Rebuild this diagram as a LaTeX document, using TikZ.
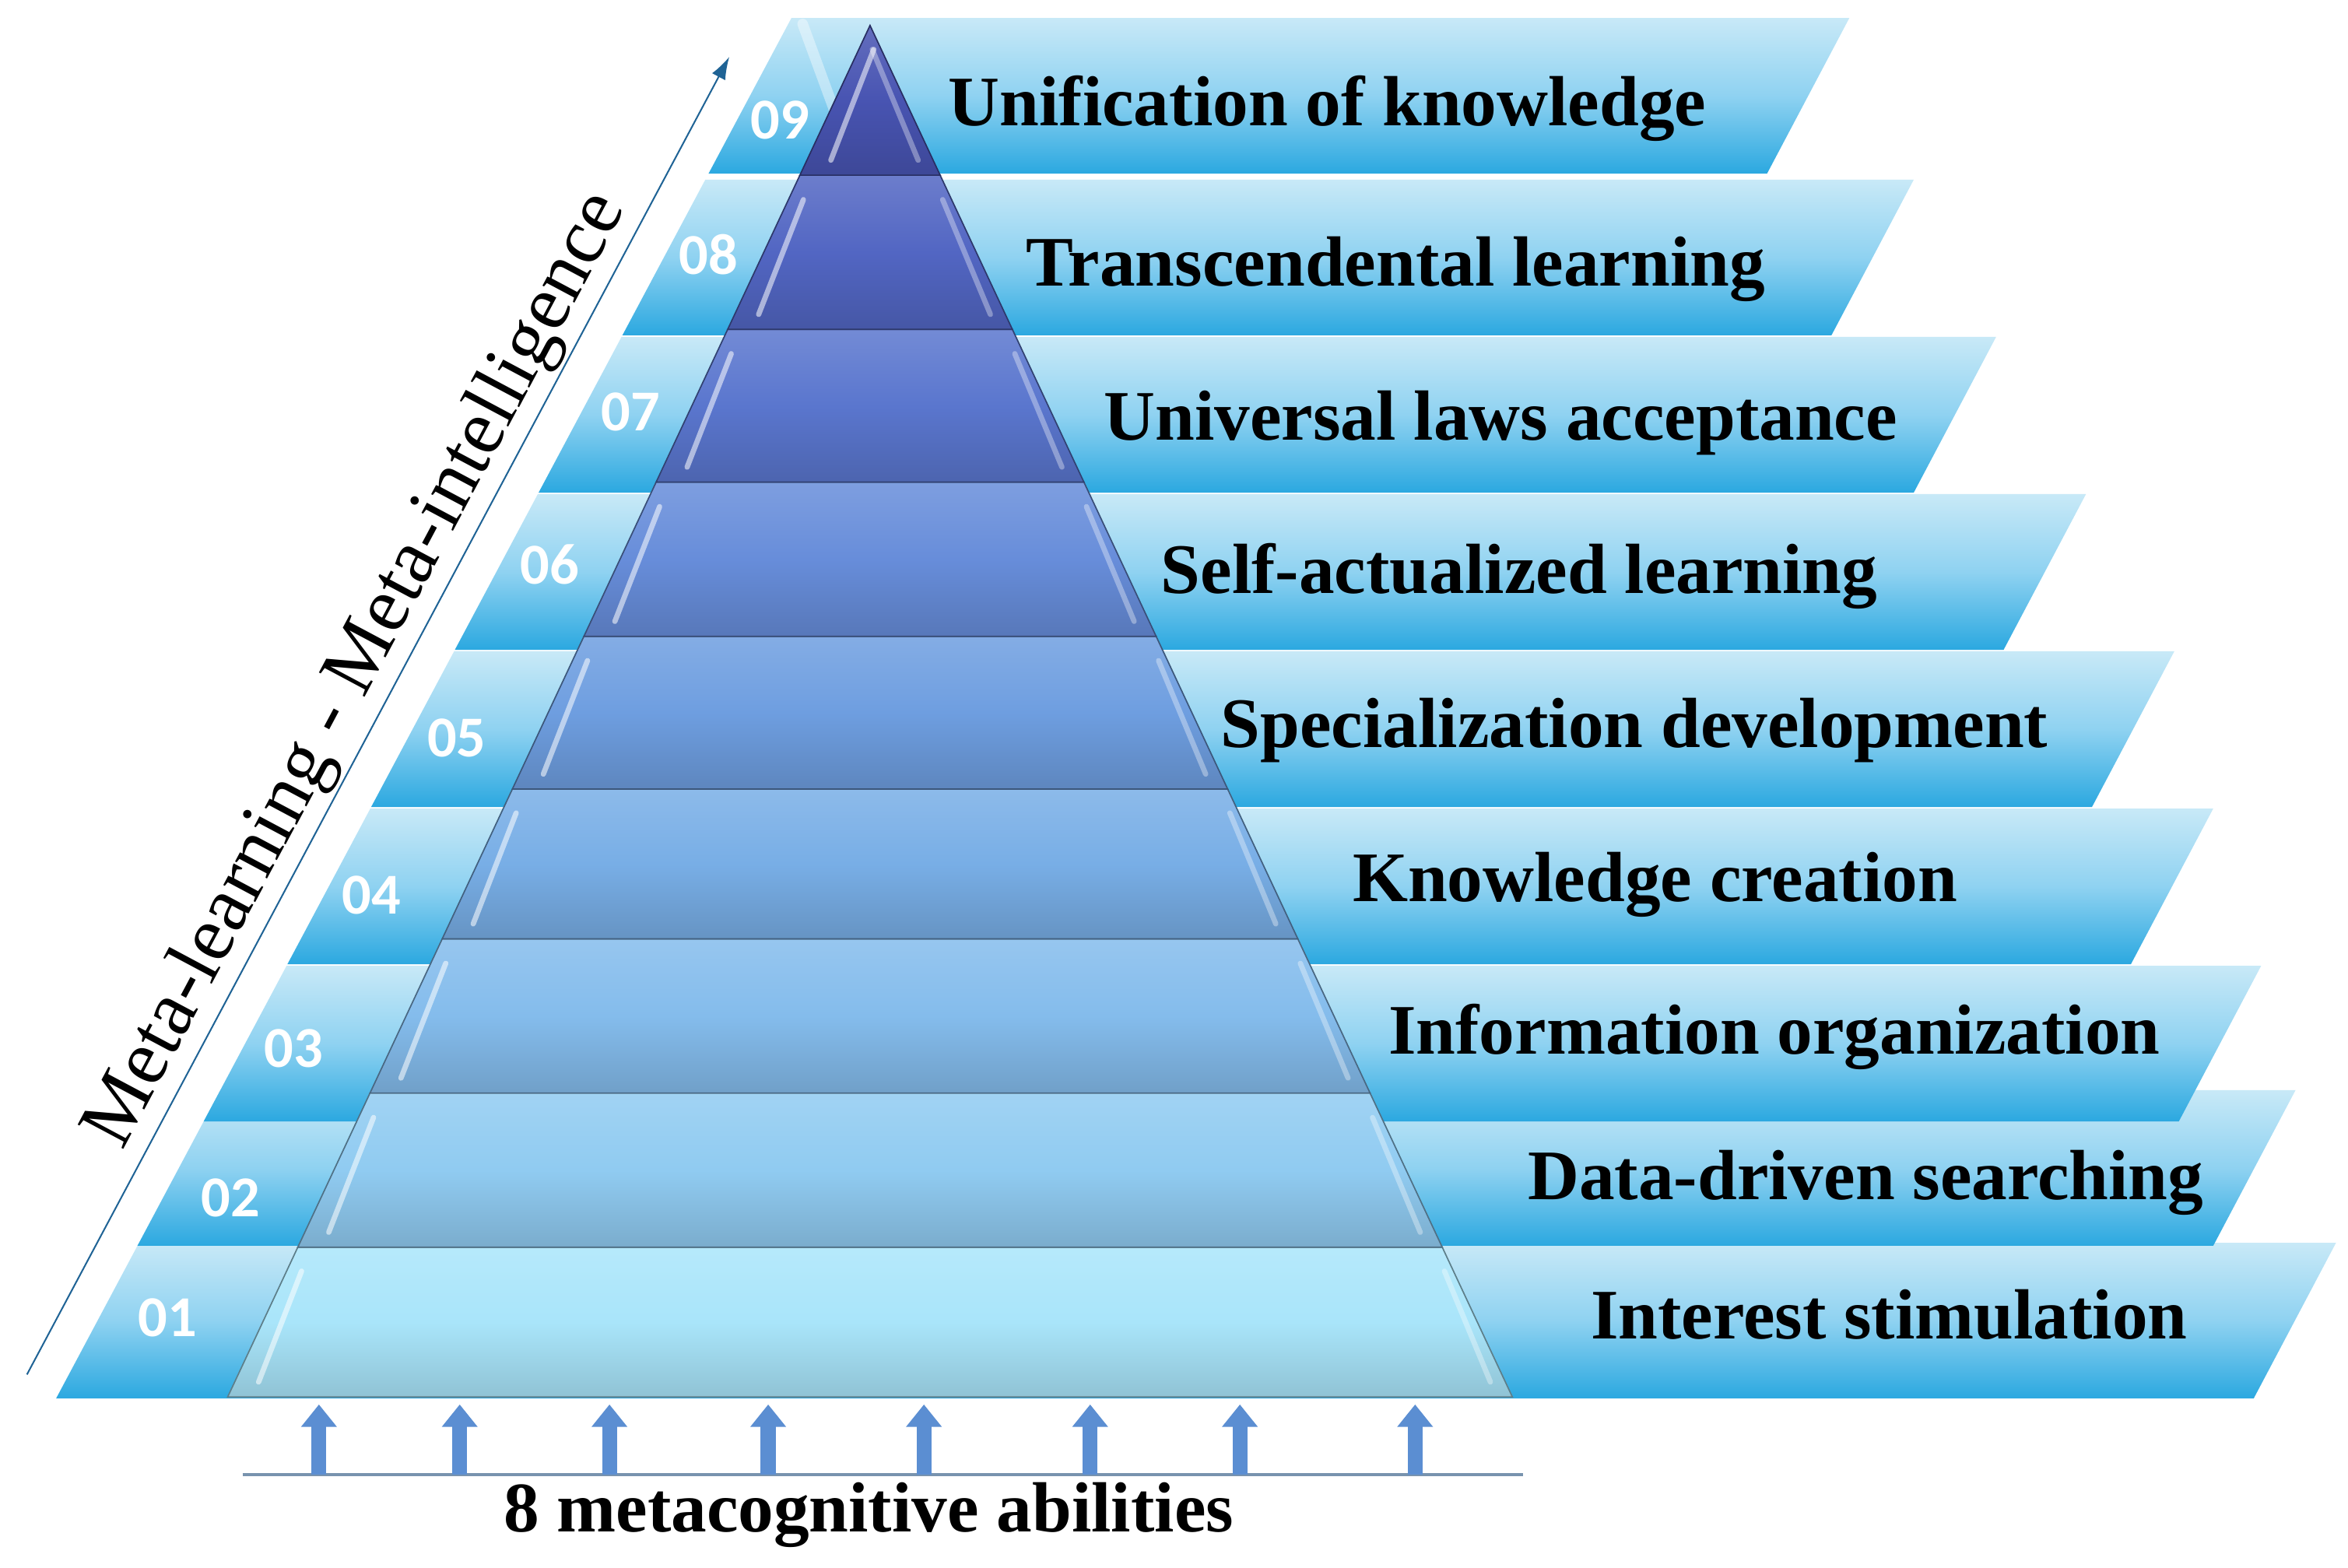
\documentclass[tikz,border=0pt]{standalone}
\usepackage{fontspec}
\setmainfont{Liberation Serif}
\newfontfamily\numfont{Carlito}
\usetikzlibrary{arrows.meta}

\definecolor{bandtop}{HTML}{C8E9F7}
\definecolor{bandmid}{HTML}{8FD2F1}
\definecolor{bandbot}{HTML}{2BA8E0}
\definecolor{axisblue}{HTML}{1F6395}
\definecolor{abilblue}{HTML}{5B8ED2}
\definecolor{baseblue}{HTML}{7893AE}
\definecolor{lv1}{HTML}{A9E5FA}
\definecolor{lv2}{HTML}{90CBF1}
\definecolor{lv3}{HTML}{84BCEC}
\definecolor{lv4}{HTML}{78AEE6}
\definecolor{lv5}{HTML}{6E9EE0}
\definecolor{lv6}{HTML}{678DDA}
\definecolor{lv7}{HTML}{5A76CE}
\definecolor{lv8}{HTML}{5266C3}
\definecolor{lv9}{HTML}{4854B2}

\tikzset{
  band/.style={top color=bandtop, bottom color=bandbot, middle color=bandmid},
  lbl/.style={font=\bfseries\fontsize{27}{32}\selectfont, anchor=mid west, inner sep=0pt},
  numtag/.style={font=\numfont\bfseries\fontsize{22}{26}\selectfont, text=white, inner sep=0pt},
  shine/.style={white, line width=2pt, line cap=round, opacity=0.55},
  abil/.style={abilblue, line width=0.2cm, -{Triangle[width=0.46cm,length=0.3cm]}}
}

\begin{document}
\begin{tikzpicture}[x=0.02cm, y=0.02cm]

	\useasboundingbox (0,0) rectangle (1568,-1047);

	% stepped bands behind the pyramid
	\foreach \n/\t/\r in {01/830/1560, 02/728/1533, 03/645/1510, 04/540/1478, 05/435/1452, 06/330/1393, 07/225/1333, 08/120/1278, 09/12/1235} {
		\pgfmathsetmacro{\xa}{38+(933-\t)*0.5326}
		\pgfmathsetmacro{\xb}{38+(933-\t-104)*0.5326}
		\path[band] (\xb,-\t-104) -- (\xa,-\t) -- (\r,-\t) -- (\r-55,-\t-104) -- cycle;
	}
	\draw[white, line width=4pt, opacity=0.4, line cap=round] (536,-16) -- (558,-76);

	% pyramid
	\foreach \t/\b/\c in {833/933/lv1, 730/833/lv2, 627/730/lv3, 527/627/lv4, 425/527/lv5, 322/425/lv6, 220/322/lv7, 117/220/lv8, 17/117/lv9} {
		\pgfmathsetmacro{\hwt}{(\t-17)*0.4683}
		\pgfmathsetmacro{\hwb}{(\b-17)*0.4683}
		\path[top color=\c!85!white, bottom color=\c!85!black, middle color=\c, draw=\c!55!black, line width=0.5pt]
			(581-\hwb,-\b) -- (581-\hwt,-\t) -- (581+\hwt,-\t) -- (581+\hwb,-\b) -- cycle;
		\pgfmathsetmacro{\ya}{\b-10}
		\pgfmathsetmacro{\yb}{\t+0.12*(\b-\t)+4}
		\pgfmathsetmacro{\hwa}{(\ya-17)*0.4683}
		\pgfmathsetmacro{\hwc}{(\yb-17)*0.4683}
		\draw[shine] (581-\hwa+16,-\ya) -- (581-\hwc+10,-\yb);
		\draw[shine, opacity=0.35] (581+\hwa-10,-\ya) -- (581+\hwc-6,-\yb);
	}

	% step numbers
	\foreach \n/\x/\y in {01/112/880, 02/154/800, 03/196/700, 04/248/598, 05/305/493, 06/367/377, 07/421/275, 08/473/170, 09/521/80}
		\node[numtag] (n\n) at (\x,-\y) {\n};

	% step names
	\foreach \i/\x/\y/\txt in {1/1062/890/Interest stimulation, 2/1020/797/Data-driven searching, 3/927/700/Information organization, 4/903/598/Knowledge creation, 5/815/495/Specialization development, 6/775/392/Self-actualized learning, 7/737/290/Universal laws acceptance, 8/685/187/Transcendental learning, 9/633/80/Unification of knowledge}
		\node[lbl] (l\i) at (\x,-\y) {\txt};

	% rising axis
	\coordinate (axbot) at (18,-918);
	\coordinate (axtop) at (487,-38);
	\draw[axisblue, line width=0.6pt, -{Latex[length=3mm,width=2mm]}] (axbot) --
		node[sloped, above=1pt, pos=0.52, inner sep=0pt, text=black, font=\fontsize{30}{36}\selectfont] (meta) {Meta-learning - Meta-intelligence} (axtop);

	% abilities under the base
	\coordinate (bl) at (162,-985);
	\coordinate (br) at (1017,-985);
	\draw[baseblue, line width=1.2pt] (bl) -- (br);
	\foreach \x [count=\i] in {213, 307, 407, 513, 617, 728, 828, 945} {
		\coordinate (f\i) at (\x,-985);
		\coordinate (h\i) at (\x,-938);
		\draw[abil] (f\i) -- (h\i);
	}
	\node[font=\bfseries\fontsize{27}{32}\selectfont, inner sep=0pt] (abl) at (580,-1012) {8 metacognitive abilities};

\end{tikzpicture}
\end{document}
